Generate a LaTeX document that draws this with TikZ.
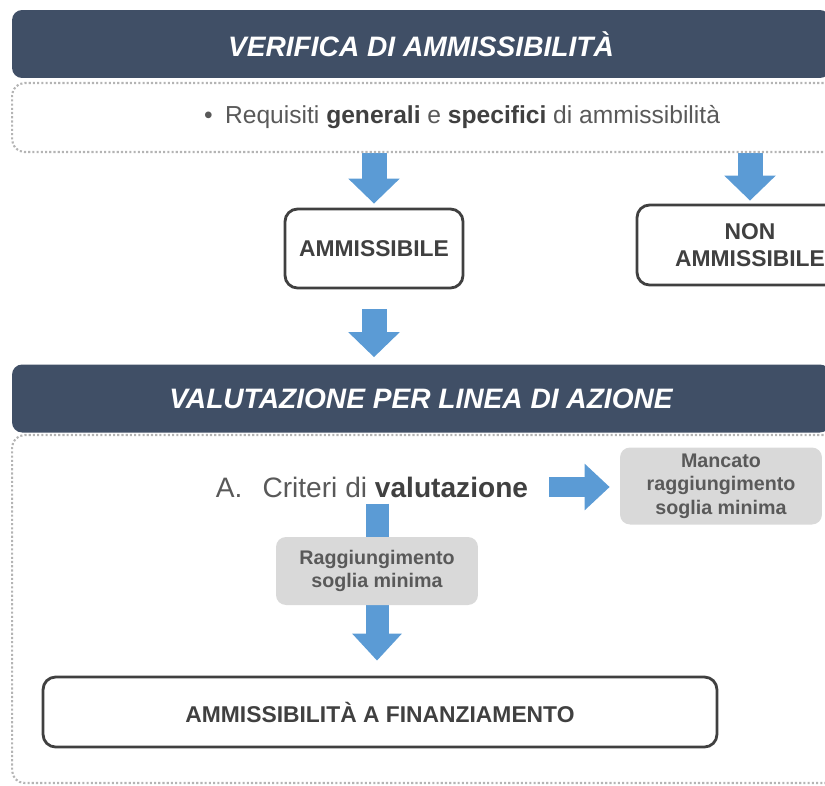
\documentclass[tikz,border=0pt]{standalone}
\usepackage{fontspec}
\setmainfont{Liberation Sans}
\usetikzlibrary{arrows.meta, positioning, backgrounds}
\definecolor{headblue}{HTML}{404F66}
\definecolor{arrowblue}{HTML}{5B9BD5}
\definecolor{dotgray}{HTML}{B4B4B4}
\definecolor{boxgray}{HTML}{404040}
\definecolor{softgray}{HTML}{D9D9D9}
\definecolor{textgray}{HTML}{404040}
\definecolor{midgray}{HTML}{595959}

\begin{document}
\begin{tikzpicture}[x=0.02cm, y=-0.02cm,
    header/.style={fill=headblue, rounded corners=0.2cm, minimum width=16.36cm, minimum height=1.36cm,
        text=white, font=\fontsize{16}{19}\selectfont\bfseries\itshape},
    dotbox/.style={draw=dotgray, line width=1.2pt, dash pattern=on 1.2pt off 1.2pt, rounded corners=0.25cm},
    outbox/.style={draw=boxgray, line width=1.6pt, rounded corners=0.25cm, text=textgray,
        font=\fontsize{13}{15}\selectfont\bfseries, align=center},
    greybox/.style={fill=softgray, rounded corners=0.2cm, minimum width=4.04cm, text=midgray,
        font=\fontsize{11.2}{13.3}\selectfont\bfseries, align=center},
    blockarrow/.style={draw=arrowblue, line width=0.5cm, -{Triangle[width=1cm, length=0.5cm]}}]
    \clip (0,0) rectangle (825,785);
    % first step
    \node[header] (verifica) at (421,44) {VERIFICA DI AMMISSIBILITÀ};
    \node[dotbox, minimum width=18cm, minimum height=1.38cm, text=midgray, font=\fontsize{14}{17}\selectfont]
        (requisiti) at (462,117.5) {•\hspace{0.25cm}Requisiti {\color{textgray}\bfseries generali} e {\color{textgray}\bfseries specifici} di ammissibilità};
    \node[outbox, minimum width=3.56cm, minimum height=1.58cm] (ammis) at (374,248.5) {AMMISSIBILE};
    \node[outbox, minimum width=4.52cm, minimum height=1.6cm] (nonammis) at (750,245) {NON\\AMMISSIBILE};
    % second step
    \node[header] (valut) at (421,398.5) {VALUTAZIONE PER LINEA DI AZIONE};
    \node[dotbox, minimum width=18cm, minimum height=6.96cm] (evalbox) at (462,609) {};
    \node[text=midgray, font=\fontsize{16}{19}\selectfont] (crit) at (372,487)
        {A.\hspace{0.4cm}Criteri di {\color{textgray}\bfseries valutazione}};
    \node[greybox, minimum height=1.54cm] (mancato) at (721,486) {Mancato\\raggiungimento\\soglia minima};
    \node[greybox, minimum height=1.36cm] (ragg) at (377,571) {Raggiungimento\\soglia minima};
    \node[outbox, minimum width=13.48cm, minimum height=1.4cm] (fin) at (380,712) {AMMISSIBILITÀ A FINANZIAMENTO};
    % arrows
    \begin{scope}[on background layer]
        \draw[blockarrow, shorten >=0.08cm] (ammis.north |- requisiti.south) -- (ammis.north);
        \draw[blockarrow, shorten >=0.06cm] (nonammis.north |- requisiti.south) -- (nonammis.north);
        \draw[blockarrow, shorten <=0.4cm, shorten >=0.14cm] (ammis.south) -- (ammis.south |- valut.north);
        \draw[blockarrow, line width=0.4cm, -{Triangle[width=0.9cm, length=0.5cm]}, shorten <=0.3cm, shorten >=0.2cm]
            (crit.east) -- (crit.east -| mancato.west);
        \draw[blockarrow, line width=0.46cm, -{Triangle[width=0.96cm, length=0.54cm]}, shorten >=0.3cm]
            (ragg.north |- crit.south) -- (ragg.north |- fin.north);
    \end{scope}
\end{tikzpicture}
\end{document}
